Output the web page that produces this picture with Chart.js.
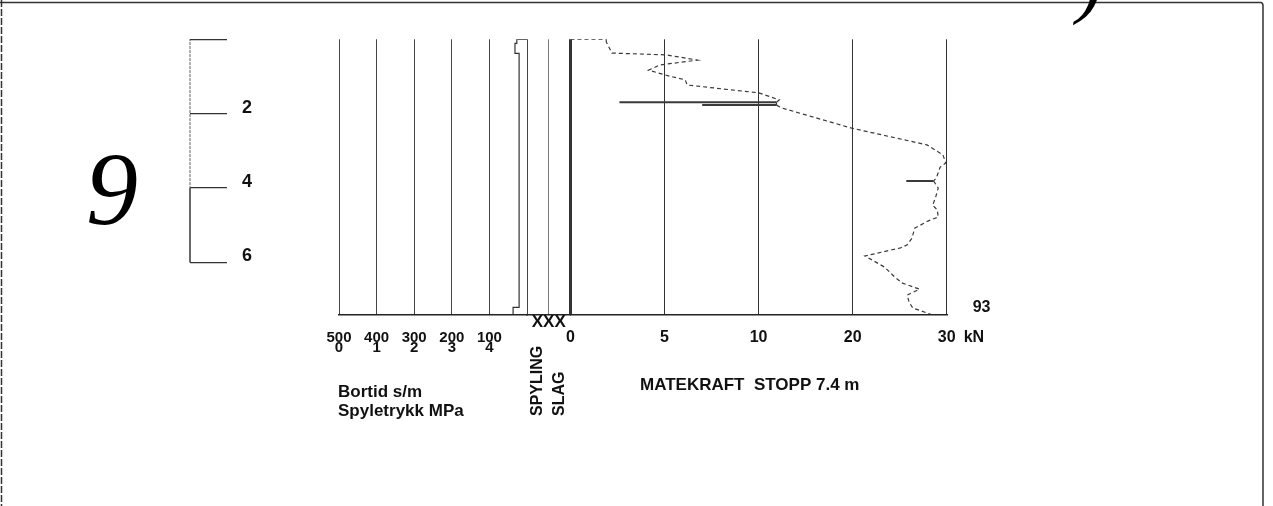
<!DOCTYPE html>
<html>
<head>
<meta charset="utf-8">
<title>Sondering 9</title>
<script src="https://cdn.jsdelivr.net/npm/chart.js@4.4.1/dist/chart.umd.min.js"></script>
<style>
    html, body { margin: 0; padding: 0; background: #fff; }
    #wrap { position: relative; width: 1273px; height: 506px; overflow: hidden; }
    #main { position: absolute; left: 0; top: 0; }
    #ruler { position: absolute; left: 150px; top: 0; }
</style>
</head>
<body>
<div id="wrap">
    <canvas id="main" width="1273" height="506"></canvas>
    <canvas id="ruler" width="150" height="506"></canvas>
</div>
<script>
// depth ruler (m)
var depthTicks = [0, 2, 4, 6];
var rulerDepth = [0, 4, 6];

// bortid s/m, top axis row, and spyletrykk MPa, second row
var bortidTicks = [500, 400, 300, 200, 100, 0];
var pressureTicks = [0, 1, 2, 3, 4];
var bortidDepth = [0, 0, 0.11, 0.11, 0.38, 0.38, 7.21, 7.21, 7.4];
var bortidValue = [0, 27, 27, 32, 32, 21, 21, 37, 37];

// matekraft kN
var forceTicks = [0, 5, 10, 20, 30];
var forceDepth = [0, 0, 0.07, 0.37, 0.42, 0.56, 0.69, 0.83, 0.99, 1.09, 1.23, 1.44, 1.63,
    1.69, 1.69, 1.69, 1.77, 1.77, 1.77, 1.85, 2.39, 2.84, 3.11, 3.33, 3.44, 3.73,
    3.81, 3.81, 3.81, 4.0, 4.27, 4.46, 4.59, 4.78, 4.89, 5.08, 5.35, 5.53, 5.61,
    5.83, 5.94, 6.13, 6.4, 6.56, 6.72, 6.88, 7.07, 7.23, 7.36, 7.4];
var forceKN = [0, 1.9, 1.9, 2.2, 5.1, 6.75, 4.75, 4.15, 5.25, 6.1, 6.2, 10.0, 12.2,
    11.9, 2.6, 11.9, 11.9, 7.0, 11.9, 12.5, 19.9, 27.9, 29.6, 29.9, 29.3, 28.9,
    28.6, 25.7, 28.6, 29.1, 28.8, 28.5, 29.0, 29.1, 28.0, 26.6, 26.3, 25.8, 25.1,
    21.3, 22.1, 23.4, 24.5, 25.3, 27.1, 25.8, 26.0, 26.4, 27.9, 28.3];

var stopLabel = 'MATEKRAFT  STOPP 7.4 m';
var blowCount = '93';

Chart.defaults.font.family = '"Liberation Sans", Arial, sans-serif';
Chart.defaults.color = '#111';

// linear axis whose value ranges get given shares of the axis length
class SplitLinearScale extends Chart.LinearScale {
    _toDecimal(value) {
        var v = this.options.breakValues;
        var f = this.options.breakFractions;
        for (var i = 1; i < v.length; i++) {
            if (value <= v[i] || i == v.length - 1) {
                return f[i - 1] + (value - v[i - 1]) / (v[i] - v[i - 1]) * (f[i] - f[i - 1]);
            }
        }
        return 0;
    }
    getPixelForValue(value) {
        if (value === null || isNaN(value)) return NaN;
        return this.getPixelForDecimal(this._toDecimal(value));
    }
    getValueForPixel(pixel) {
        var d = this.getDecimalForPixel(pixel);
        var v = this.options.breakValues;
        var f = this.options.breakFractions;
        for (var i = 1; i < f.length; i++) {
            if (d <= f[i] || i == f.length - 1) {
                return v[i - 1] + (d - f[i - 1]) / (f[i] - f[i - 1]) * (v[i] - v[i - 1]);
            }
        }
        return 0;
    }
}
SplitLinearScale.id = 'splitLinear';
SplitLinearScale.defaults = {};
Chart.register(SplitLinearScale);

function points(xs, ys) {
    return xs.map(function (x, i) { return {x: x, y: ys[i]}; });
}

function isSpike(ctx) {
    return ctx.p0.parsed.y === ctx.p1.parsed.y && ctx.p0.parsed.y > 0;
}

function fixHeight(scale) {
    scale.height = 50;
}

var textPlugin = {
    id: 'sheetText',
    afterDraw: function (chart) {
        var ctx = chart.ctx;
        var force = chart.scales.force;
        var cols = chart.scales.cols;
        var y = chart.scales.y;
        ctx.save();

        // page frame
        ctx.strokeStyle = '#333';
        ctx.lineWidth = 1.5;
        ctx.beginPath();
        ctx.moveTo(0, 2.5);
        ctx.lineTo(1261, 2.5);
        ctx.quadraticCurveTo(1263, 3, 1263, 6);
        ctx.lineTo(1263, 506);
        ctx.stroke();
        ctx.setLineDash([7, 2]);
        ctx.beginPath();
        ctx.moveTo(1.5, 0);
        ctx.lineTo(1.5, 506);
        ctx.stroke();
        ctx.setLineDash([]);

        // handwriting
        ctx.fillStyle = '#000';
        ctx.textBaseline = 'alphabetic';
        ctx.textAlign = 'center';
        ctx.font = 'italic 104px "Liberation Serif"';
        ctx.fillText('9', 112, 224);
        ctx.font = 'italic 80px "Liberation Serif"';
        ctx.fillText(')', 1090, 8);

        ctx.fillStyle = '#111';
        ctx.textAlign = 'left';
        ctx.font = 'bold 17px "Liberation Sans"';
        ctx.fillText('Bortid s/m', 338, 397);
        ctx.fillText('Spyletrykk MPa', 338, 416);
        ctx.fillText(stopLabel, 640, 390);

        ctx.textBaseline = 'middle';
        ctx.font = 'bold 16px "Liberation Sans"';
        ctx.fillText('kN', force.getPixelForValue(30) + 17, force.top + 23.1);
        ctx.fillText(blowCount, force.getPixelForValue(30) + 26, y.getPixelForValue(7.23));

        // column headings, rotated
        [['SPYLING', 0.5], ['SLAG', 1.5]].forEach(function (item) {
            ctx.save();
            ctx.translate(cols.getPixelForValue(item[1]), 416);
            ctx.rotate(-Math.PI / 2);
            ctx.textAlign = 'left';
            ctx.textBaseline = 'middle';
            ctx.fillText(item[0], 0, 0);
            ctx.restore();
        });
        ctx.restore();
    }
};

var bottomFont = {size: 15, weight: 'bold', lineHeight: 0.68};

new Chart(document.getElementById('main'), {
    type: 'line',
    data: {
        datasets: [
            {
                label: 'Matekraft',
                xAxisID: 'force',
                yAxisID: 'y',
                data: points(forceKN, forceDepth),
                borderColor: '#3a3a3a',
                borderWidth: 1.2,
                pointRadius: 0,
                fill: false,
                segment: {
                    borderDash: function (ctx) { return isSpike(ctx) ? [] : [4, 3]; },
                    borderWidth: function (ctx) { return isSpike(ctx) ? 2 : 1.2; }
                }
            },
            {
                label: 'Bortid',
                xAxisID: 'bortid',
                yAxisID: 'y',
                data: points(bortidValue, bortidDepth),
                borderColor: '#333',
                borderWidth: 1.2,
                pointRadius: 0,
                fill: false
            }
        ]
    },
    options: {
        responsive: false,
        animation: false,
        events: [],
        layout: {padding: {left: 339, right: 326.3, top: 39.3, bottom: 141.6}},
        plugins: {legend: {display: false}, tooltip: {enabled: false}},
        scales: {
            bortid: {
                type: 'linear',
                position: 'bottom',
                stack: 'panel',
                stackWeight: 188,
                min: 0,
                max: 500,
                reverse: true,
                afterBuildTicks: function (scale) {
                    scale.ticks = bortidTicks.map(function (v) { return {value: v}; });
                },
                afterFit: fixHeight,
                ticks: {
                    autoSkip: false,
                    maxRotation: 0,
                    padding: 18,
                    font: bottomFont,
                    callback: function (v, i) {
                        return i < pressureTicks.length ? [String(v), String(pressureTicks[i])] : '';
                    }
                },
                grid: {color: '#444', lineWidth: 1, drawTicks: false},
                border: {color: '#222', width: 1.5}
            },
            cols: {
                type: 'linear',
                position: 'bottom',
                stack: 'panel',
                stackWeight: 43.5,
                min: 0,
                max: 2,
                afterBuildTicks: function (scale) {
                    scale.ticks = [{value: 1}];
                },
                afterFit: fixHeight,
                ticks: {
                    autoSkip: false,
                    maxRotation: 0,
                    padding: 2,
                    font: {size: 17, weight: 'bold', lineHeight: 0.75},
                    callback: function () { return 'XXX'; }
                },
                grid: {color: '#777', lineWidth: 1, drawTicks: false},
                border: {color: '#222', width: 1.5}
            },
            force: {
                type: 'splitLinear',
                position: 'bottom',
                stack: 'panel',
                stackWeight: 376.2,
                min: 0,
                max: 30,
                breakValues: [0, 10, 30],
                breakFractions: [0, 0.5, 1],
                afterBuildTicks: function (scale) {
                    scale.ticks = forceTicks.map(function (v) { return {value: v}; });
                },
                afterFit: fixHeight,
                ticks: {
                    autoSkip: false,
                    maxRotation: 0,
                    padding: 13.5,
                    font: {size: 16, weight: 'bold'},
                    callback: function (v) { return String(v); }
                },
                grid: {
                    color: '#333',
                    lineWidth: function (ctx) { return ctx.tick && ctx.tick.value === 0 ? 3 : 1; },
                    drawTicks: false
                },
                border: {color: '#222', width: 1.5}
            },
            y: {
                type: 'linear',
                min: 0,
                max: 7.4,
                reverse: true,
                display: false
            }
        }
    },
    plugins: [textPlugin]
});

new Chart(document.getElementById('ruler'), {
    type: 'line',
    data: {
        datasets: [{
            label: 'Dybde',
            data: rulerDepth.map(function (d) { return {x: 0, y: d}; }),
            borderColor: '#555',
            borderWidth: 1,
            pointRadius: 0,
            clip: false,
            segment: {
                borderDash: function (ctx) { return ctx.p1.parsed.y <= 4 ? [1, 3] : []; }
            }
        }]
    },
    options: {
        responsive: false,
        animation: false,
        events: [],
        layout: {padding: {left: 40, right: 43, top: 39.3, bottom: 191.6}},
        plugins: {legend: {display: false}, tooltip: {enabled: false}},
        scales: {
            x: {type: 'linear', min: 0, max: 1, display: false},
            y: {
                type: 'linear',
                position: 'right',
                min: 0,
                max: 7.4,
                reverse: true,
                afterBuildTicks: function (scale) {
                    scale.ticks = depthTicks.map(function (v) { return {value: v}; });
                },
                afterFit: function (scale) { scale.width = 30; },
                ticks: {
                    padding: 15,
                    labelOffset: -6,
                    font: {size: 18, weight: 'bold'},
                    callback: function (v) { return v === 0 ? '' : String(v); }
                },
                grid: {color: '#333', lineWidth: 1.2, drawTicks: false},
                border: {display: false}
            }
        }
    }
});
</script>
</body>
</html>
